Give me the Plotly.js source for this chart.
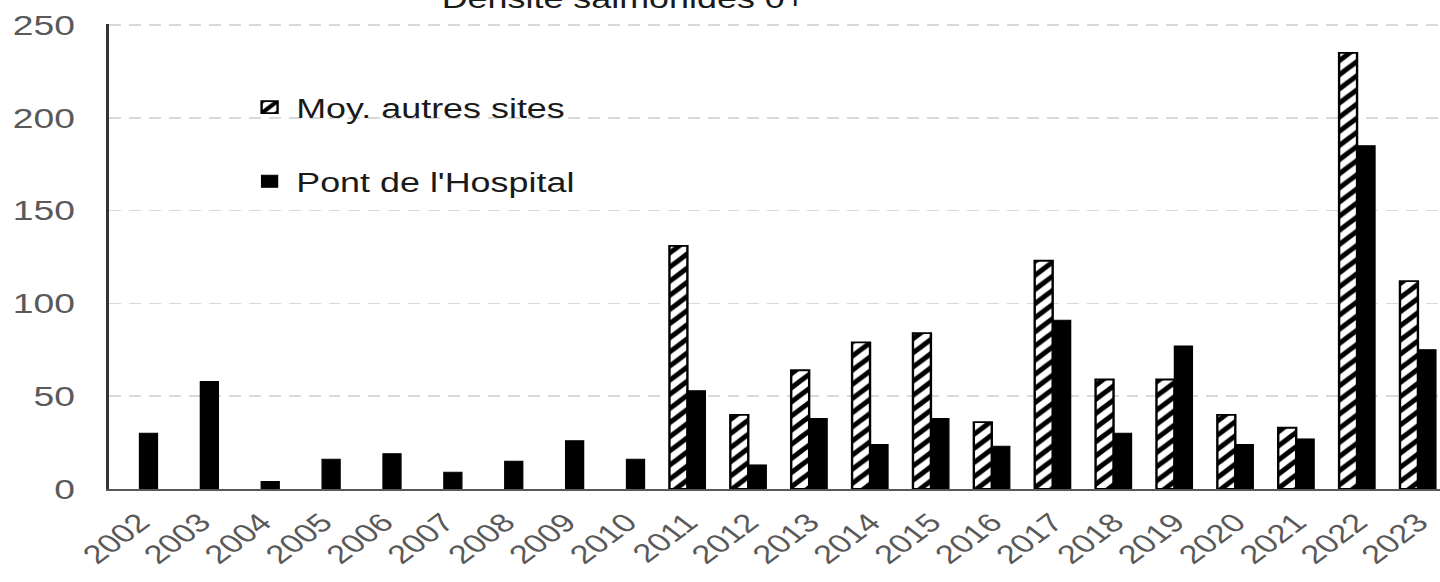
<!DOCTYPE html>
<html>
<head>
<meta charset="utf-8">
<script src="https://cdn.plot.ly/plotly-3.0.1.min.js"></script>
<style>
  html, body { margin: 0; padding: 0; overflow: hidden; background: #fff; width: 1440px; height: 582px; }
  #chart { width: 1089px; height: 582px; transform: scaleX(1.33); transform-origin: 0 0; }
</style>
</head>
<body>
<div id="chart"></div>
<script>
const years = ['2002','2003','2004','2005','2006','2007','2008','2009','2010','2011','2012',
               '2013','2014','2015','2016','2017','2018','2019','2020','2021','2022','2023'];
const autresSites = [null,null,null,null,null,null,null,null,null,131,40,
                     64,79,84,36,123,59,59,40,33,235,112];
const pontHospital = [30,58,4,16,19,9,15,26,16,53,13,
                      38,24,38,23,91,30,77,24,27,185,75];
const yTicks = [0,50,100,150,200,250];
const chartTitle = 'Densité salmonidés 0+';
const seriesNames = ['Moy. autres sites', "Pont de l'Hospital"];

const traces = [
  {
    type: 'bar', name: seriesNames[0], x: years, y: autresSites, legendgroup: 'a',
    marker: {
      color: 'white',
      line: {color: 'black', width: 1.8},
      pattern: {shape: '/', fgcolor: 'black', bgcolor: 'white', size: 10, solidity: 0.45}
    }
  },
  {
    type: 'bar', name: seriesNames[1], x: years, y: pontHospital, legendgroup: 'b',
    marker: {color: 'black', line: {color: 'black', width: 1}}
  }
];

const layout = {
  width: 1089, height: 582,
  margin: {l: 82, r: 0, t: 24, b: 93},
  paper_bgcolor: 'white', plot_bgcolor: 'white',
  font: {family: 'Liberation Sans, Arial, sans-serif', color: '#595959'},
  barmode: 'group', bargap: 0.41, bargroupgap: 0,
  showlegend: true,
  legend: {
    x: 0.1, xanchor: 'left', y: 0.873, yanchor: 'top',
    traceorder: 'grouped', tracegroupgap: 36,
    font: {size: 27, color: '#1a1a1a'},
    bgcolor: 'rgba(0,0,0,0)'
  },
  xaxis: {
    type: 'category', tickangle: -45,
    tickfont: {size: 26, color: '#595959'},
    ticklabelstandoff: 6,
    showline: true, linecolor: '#595959', linewidth: 2,
    ticks: '', showgrid: false, zeroline: false
  },
  yaxis: {
    range: [0, 250.6], tickvals: yTicks,
    tickfont: {size: 28, color: '#595959'},
    ticklabelstandoff: 18,
    showline: true, linecolor: '#333333', linewidth: 2,
    showgrid: true, gridcolor: '#d9d9d9', gridwidth: 1.5, griddash: '9px,6px',
    zeroline: false, ticks: ''
  },
  annotations: [{
    text: chartTitle, xref: 'paper', yref: 'paper',
    x: (469 - 82) / 1007, y: 1 + (24 - 16) / 465,
    xanchor: 'center', yanchor: 'bottom', showarrow: false,
    font: {size: 27, color: '#1a1a1a'}
  }]
};

Plotly.newPlot('chart', traces, layout, {displayModeBar: false, staticPlot: true, responsive: false});
</script>
</body>
</html>
